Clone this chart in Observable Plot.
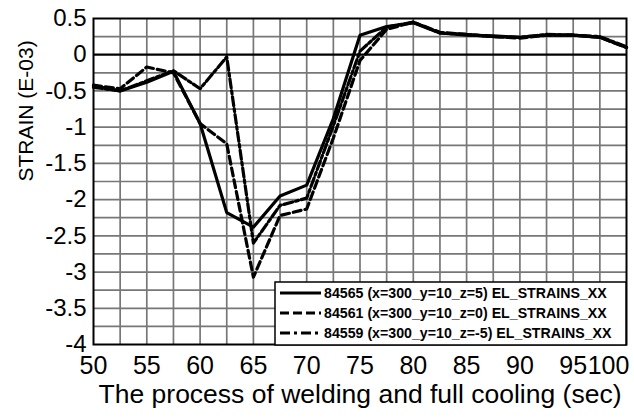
<!DOCTYPE html>
<html>
<head>
<meta charset="utf-8">
<script src="https://cdn.jsdelivr.net/npm/d3@7"></script>
<script src="https://cdn.jsdelivr.net/npm/@observablehq/plot@0.6"></script>
<style>
  html, body { margin: 0; padding: 0; background: white; }
  #chart { width: 634px; height: 418px; }
</style>
</head>
<body>
<div id="chart"></div>
<script>
// ---- data ----
const time = [50, 52.5, 55, 57.5, 60, 62.5, 65, 67.5, 70, 72.5, 75, 77.5, 80, 82.5, 85, 87.5, 90, 92.5, 95, 97.5, 100];
const s84565 = [-0.43, -0.50, -0.38, -0.23, -0.95, -2.18, -2.38, -1.95, -1.80, -0.88, 0.27, 0.39, 0.44, 0.30, 0.27, 0.26, 0.24, 0.27, 0.27, 0.24, 0.10];
const s84561 = [-0.42, -0.47, -0.17, -0.25, -0.95, -1.23, -3.07, -2.22, -2.13, -1.15, -0.08, 0.35, 0.45, 0.31, 0.28, 0.25, 0.23, 0.27, 0.27, 0.24, 0.10];
const s84559 = [-0.45, -0.50, -0.36, -0.22, -0.47, -0.03, -2.60, -2.08, -1.98, -0.98, 0.05, 0.38, 0.45, 0.30, 0.28, 0.25, 0.24, 0.28, 0.27, 0.25, 0.11];
const seriesNames = [
  "84565 (x=300_y=10_z=5) EL_STRAINS_XX",
  "84561 (x=300_y=10_z=0) EL_STRAINS_XX",
  "84559 (x=300_y=10_z=-5) EL_STRAINS_XX"
];
const xTicks = [50, 55, 60, 65, 70, 75, 80, 85, 90, 95, 100];
const yTicks = [0.5, 0, -0.5, -1, -1.5, -2, -2.5, -3, -3.5, -4];
const xGrid = [52.5, 55, 57.5, 60, 62.5, 65, 67.5, 70, 72.5, 75, 77.5, 80, 82.5, 85, 87.5, 90, 92.5, 95, 97.5];
const yGrid = [0.25, -0.25, -0.5, -0.75, -1, -1.25, -1.5, -1.75, -2, -2.25, -2.5, -2.75, -3, -3.25, -3.5, -3.75];
const xLabel = "The process of welding and full cooling (sec)";
const yLabel = "STRAIN (E-03)";

const seriesValues = [s84565, s84561, s84559];
const dashes = [null, "8,4", "9,3,3,3"];
const rows = [];
seriesValues.forEach((vals, k) => time.forEach((t, i) => rows.push({series: seriesNames[k], time: t, strain: vals[i]})));

const font = "'Liberation Sans', Arial, Helvetica, sans-serif";
const gridStyle = {stroke: "#777777", strokeOpacity: 1, strokeWidth: 1.7};

const lineMarks = seriesNames.map((name, k) =>
  Plot.line(rows.filter(d => d.series === name), {
    x: "time", y: "strain", stroke: "black", strokeWidth: 3.2,
    strokeDasharray: dashes[k] || undefined, strokeLinejoin: "round"
  })
);

const chart = Plot.plot({
  width: 634, height: 418,
  marginLeft: 93, marginRight: 8, marginTop: 18, marginBottom: 74,
  style: {fontFamily: font, background: "white", color: "black", overflow: "visible"},
  x: {domain: [50, 100]},
  y: {domain: [-4, 0.5]},
  marks: [
    Plot.gridX(xGrid, gridStyle),
    Plot.gridY(yGrid, gridStyle),
    Plot.ruleY([0], {stroke: "black", strokeWidth: 2.2}),
    ...lineMarks,
    Plot.frame({stroke: "black", strokeWidth: 2}),
    Plot.axisX(xTicks.slice(0, -1), {tickSize: 0, tickPadding: 12, fontSize: 25, label: null, tickFormat: d => String(d)}),
    Plot.axisX(xTicks.slice(-1), {tickSize: 0, tickPadding: 12, fontSize: 25, label: null, dx: -18, tickFormat: d => String(d)}),
    Plot.axisY(yTicks, {tickSize: 0, tickPadding: 7, fontSize: 24, label: null, tickFormat: d => String(d)}),
    Plot.text([xLabel], {frameAnchor: "bottom", dy: 58, fontSize: 26.5, text: d => d, fill: "black"}),
    Plot.text([yLabel], {frameAnchor: "left", dx: -67, rotate: -90, fontSize: 21, text: d => d, fill: "black"})
  ]
});

document.getElementById("chart").appendChild(chart);

// ---- legend (inside plot, lower right) ----
const svg = d3.select(chart);
const lg = svg.append("g").attr("text-anchor", "start");
lg.append("rect").attr("x", 275).attr("y", 282).attr("width", 351).attr("height", 63)
  .attr("fill", "white").attr("stroke", "black").attr("stroke-width", 1.5);
seriesNames.forEach((name, k) => {
  const y = 293 + k * 20;
  const ln = lg.append("line").attr("x1", 280).attr("x2", 321).attr("y1", y).attr("y2", y)
    .attr("stroke", "black").attr("stroke-width", 3);
  if (dashes[k]) ln.attr("stroke-dasharray", k === 1 ? "9,4" : "10,4,3,4");
  lg.append("text").attr("x", 324).attr("y", y + 5).text(name)
    .attr("text-anchor", "start")
    .attr("font-family", font).attr("font-weight", "bold").attr("font-size", 14.2).attr("fill", "black");
});
</script>
</body>
</html>
